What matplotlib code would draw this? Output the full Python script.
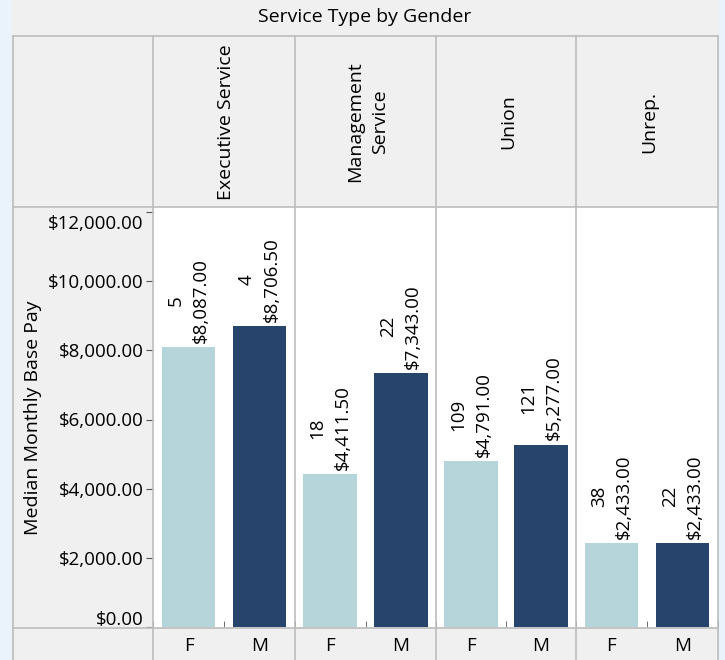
import matplotlib.pyplot as plt
from matplotlib.lines import Line2D
from matplotlib.patches import Rectangle
import matplotlib.transforms as mtransforms

plt.rcParams['font.family'] = ['Open Sans', 'DejaVu Sans']

# data
service_types = ["Executive Service", "Management\nService", "Union", "Unrep."]
genders = ["F", "M"]
female_pay = [8087.00, 4411.50, 4791.00, 2433.00]
male_pay = [8706.50, 7343.00, 5277.00, 2433.00]
female_n = [5, 18, 109, 38]
male_n = [4, 22, 121, 22]
y_ticks = [0, 2000, 4000, 6000, 8000, 10000, 12000]

light = '#b6d5da'
dark = '#26446c'
grid_col = '#bdbdbd'
fs = 13.5
fs_head = 14

W, H = 725, 660
fig = plt.figure(figsize=(W / 100, H / 100), dpi=100)
fig.patch.set_facecolor('#f0f0f0')


def fx(x):
    return x / W


def fy(y):
    return 1 - y / H


# window strips at the sides
fig.add_artist(Rectangle((0, 0), fx(12), 1, transform=fig.transFigure,
                         facecolor='#eaf2fb', edgecolor='none', zorder=0))
fig.add_artist(Rectangle((fx(719), 0), 1 - fx(719), 1, transform=fig.transFigure,
                         facecolor='#eaf2fb', edgecolor='none', zorder=0))

fig.text(fx(365), fy(17), "Service Type by Gender", ha='center', va='center', fontsize=fs_head)

col_edges = [153, 295, 436, 576, 718]
top_plot, bot_plot = 207, 627
px_per_unit = (627 - 212) / 12000

axes = []
for i in range(4):
    x0, x1 = col_edges[i], col_edges[i + 1]
    ax = fig.add_axes([fx(x0), fy(bot_plot), fx(x1 - x0), (bot_plot - top_plot) / H])
    ax.set_facecolor('white')
    ax.bar([0], [female_pay[i]], width=0.76, color=light, zorder=2)
    ax.bar([1], [male_pay[i]], width=0.76, color=dark, zorder=2)
    for xpos, val, n in [(0, female_pay[i], female_n[i]), (1, male_pay[i], male_n[i])]:
        ax.annotate(f"{n}\n${val:,.2f}", (xpos, val), xytext=(0, 3),
                    textcoords='offset points', rotation=90, ha='center', va='bottom',
                    multialignment='center', fontsize=fs, linespacing=1.5)
    ax.set_xlim(-0.5, 1.5)
    ax.set_ylim(0, 12000 + 5 / px_per_unit)
    ax.set_xticks([0, 1])
    ax.set_xticklabels(genders, fontsize=fs)
    ax.set_xticks([-0.5, 0.5, 1.5], minor=True)
    ax.tick_params(axis='x', which='major', length=0, pad=7)
    ax.tick_params(axis='x', which='minor', length=4, color='#555555', direction='in')
    for s in ax.spines.values():
        s.set_visible(False)
    if i == 0:
        ax.set_yticks(y_ticks)
        ax.set_yticklabels([f"${v:,.2f}" for v in y_ticks], fontsize=fs)
        ax.tick_params(axis='y', length=5, color='#555555', pad=2)
        labs = ax.get_yticklabels()
        labs[0].set_transform(labs[0].get_transform() +
                              mtransforms.ScaledTranslation(0, 9 / 100, fig.dpi_scale_trans))
        labs[-1].set_transform(labs[-1].get_transform() +
                               mtransforms.ScaledTranslation(0, -10 / 100, fig.dpi_scale_trans))
    else:
        ax.set_yticks([])
    axes.append(ax)

    # header cell text
    fig.text(fx((x0 + x1) / 2 + 2), fy(122), service_types[i], rotation=90,
             ha='center', va='center', multialignment='center', fontsize=fs_head,
             linespacing=1.45)

fig.text(fx(33), fy(418), "Median Monthly Base Pay", rotation=90,
         ha='center', va='center', fontsize=fs_head)


def hline(y, x0, x1):
    fig.add_artist(Line2D([fx(x0), fx(x1)], [fy(y), fy(y)], transform=fig.transFigure,
                          color=grid_col, lw=1.2, zorder=5))


def vline(x, y0, y1):
    fig.add_artist(Line2D([fx(x), fx(x)], [fy(y0), fy(y1)], transform=fig.transFigure,
                          color=grid_col, lw=1.2, zorder=5))


hline(36, 13, 718)
hline(207, 13, 718)
hline(628, 13, 718)
vline(13, 36, 660)
for x in col_edges:
    vline(x, 36, 660)

fig.savefig('out.png', dpi=100, facecolor=fig.get_facecolor())
